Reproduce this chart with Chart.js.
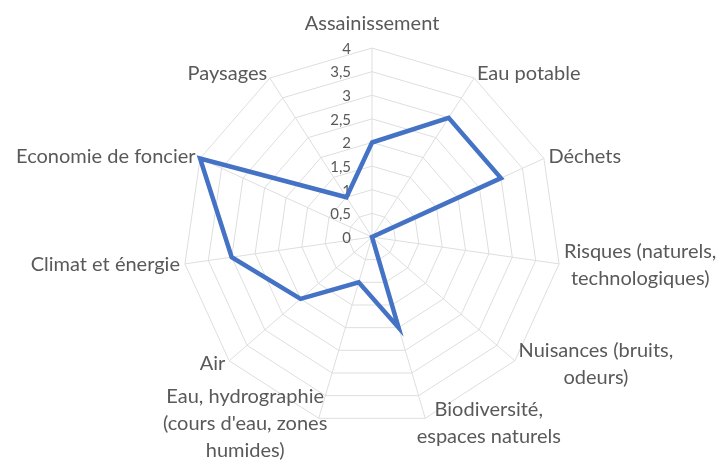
<!DOCTYPE html>
<html>
<head>
<meta charset="utf-8">
<script src="https://cdn.jsdelivr.net/npm/chart.js@4.4.1/dist/chart.umd.min.js"></script>
<style>
  html, body { margin: 0; padding: 0; background: #ffffff; }
  #c { display: block; }
</style>
</head>
<body>
<canvas id="c" width="727" height="461"></canvas>
<script>
// Thèmes évalués (libellés sur plusieurs lignes)
const categories = [
  ['Assainissement'],
  ['Eau potable'],
  ['Déchets'],
  ['Risques (naturels,', 'technologiques)'],
  ['Nuisances (bruits,', 'odeurs)'],
  ['Biodiversité,', 'espaces naturels'],
  ['Eau, hydrographie', "(cours d'eau, zones", 'humides)'],
  ['Air'],
  ['Climat et énergie'],
  ['Economie de foncier'],
  ['Paysages']
];
// Note attribuée à chaque thème
const scores = [2, 3, 3, 0, 0, 2, 1, 2, 3, 4, 1];
// Graduations de l'axe radial
const tickValues = [0, 0.5, 1, 1.5, 2, 2.5, 3, 3.5, 4];
const tickLabels = ['0', '0,5', '1', '1,5', '2', '2,5', '3', '3,5', '4'];

const TEXT_GREY = '#595959';
const FONT = 'Lato, "Open Sans", sans-serif';

// Draws graduation labels beside the vertical axis and the theme names round the web
const axisText = {
  id: 'axisText',
  beforeDatasetsDraw(chart) {
    const s = chart.scales.r;
    const ctx = chart.ctx;
    ctx.save();
    ctx.fillStyle = TEXT_GREY;

    ctx.font = '15px ' + FONT;
    ctx.textAlign = 'right';
    ctx.textBaseline = 'middle';
    tickValues.forEach((v, i) => {
      const y = s.yCenter - s.getDistanceFromCenterForValue(v);
      ctx.fillText(tickLabels[i], s.xCenter - 21, y + 1);
    });

    ctx.font = '20px ' + FONT;
    ctx.textAlign = 'center';
    ctx.textBaseline = 'middle';
    const lh = 27;
    categories.forEach((lines, i) => {
      const p = s.getPointPosition(i, s.drawingArea + 5);
      const a = p.angle + Math.PI / 2;
      const sin = Math.sin(a), cos = Math.cos(a);
      const w = Math.max(...lines.map(t => ctx.measureText(t).width));
      const h = lines.length * lh;
      let left;
      if (Math.abs(sin) < 0.05) left = p.x - w / 2;
      else if (sin > 0) left = p.x;
      else left = p.x - w;
      if (cos < -0.9) left -= Math.sign(sin) * 10;
      let top;
      if (Math.abs(sin) < 0.05 && cos > 0) top = p.y - 6 - h;
      else top = p.y - h / 2;
      lines.forEach((t, k) => {
        ctx.fillText(t, left + w / 2, top + lh * (k + 0.5));
      });
    });
    ctx.restore();
  }
};

new Chart(document.getElementById('c'), {
  type: 'radar',
  data: {
    labels: categories,
    datasets: [{
      data: scores,
      borderColor: '#4472C4',
      borderWidth: 4.5,
      fill: false,
      pointRadius: 0,
      pointHoverRadius: 0,
      tension: 0
    }]
  },
  options: {
    responsive: false,
    animation: false,
    devicePixelRatio: 1,
    layout: { padding: { top: 48, bottom: 35, left: 17, right: 0 } },
    plugins: { legend: { display: false }, tooltip: { enabled: false } },
    scales: {
      r: {
        min: 0,
        max: 4,
        ticks: { stepSize: 0.5, display: false },
        grid: { color: '#dedede', lineWidth: 1 },
        angleLines: { color: '#dedede', lineWidth: 1 },
        pointLabels: { display: false }
      }
    }
  },
  plugins: [axisText]
});
</script>
</body>
</html>
